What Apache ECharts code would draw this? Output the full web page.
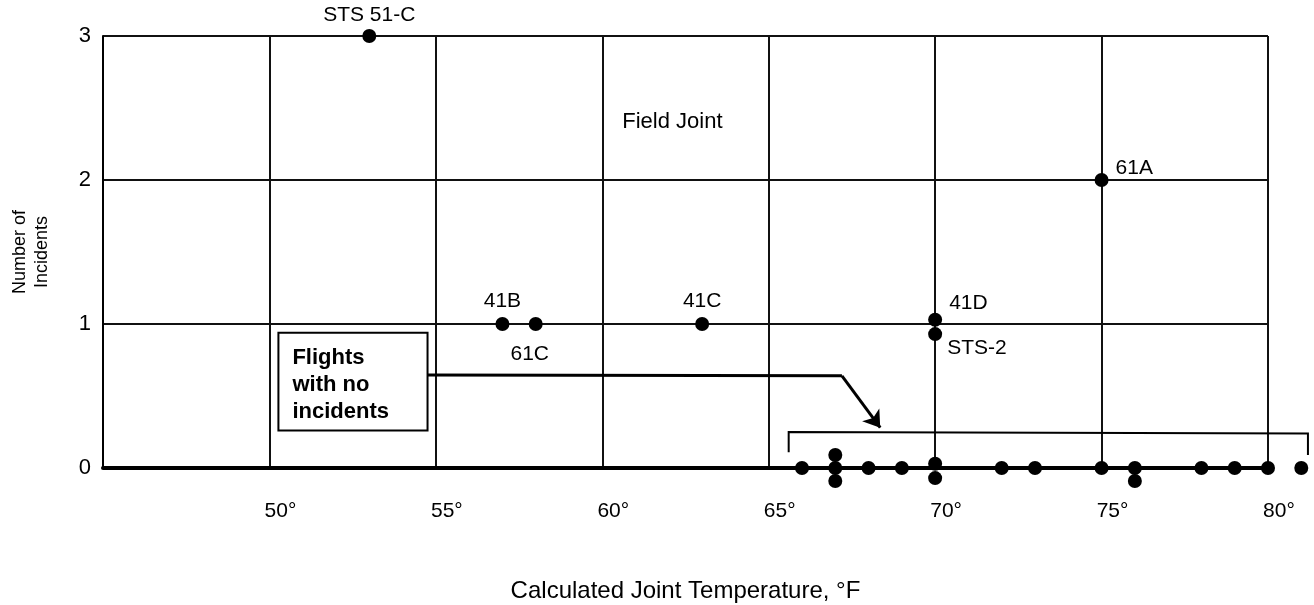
<!DOCTYPE html>
<html>
<head>
<meta charset="utf-8">
<script src="https://cdn.jsdelivr.net/npm/echarts@6/dist/echarts.min.js"></script>
<style>
html, body { margin: 0; padding: 0; background: #fff; }
#chart { width: 1314px; height: 605px; }
</style>
</head>
<body>
<div id="chart"></div>
<script>
// flights with field joint incidents
const incidentTemps = [53, 57, 58, 63, 70, 70, 75]
const incidentCounts = [3, 1, 1, 1, 1.03, 0.93, 2]
const incidentNames = ['STS 51-C', '41B', '61C', '41C', '41D', 'STS-2', '61A']

// flights with no incidents (small offsets = dots stacked as drawn)
const noIncidentTemps = [66, 67, 67, 67, 68, 69, 70, 70, 72, 73, 75, 76, 76, 78, 79, 80, 81]
const noIncidentCounts = [0, 0.09, 0, -0.09, 0, 0, 0.03, -0.07, 0, 0, 0, 0, -0.09, 0, 0, 0, 0]

const tempTicks = [50, 55, 60, 65, 70, 75, 80]

// annotation anchors, in data units
const arrowRun = [[54.75, 0.645], [67.2, 0.64]]
const arrowHead = [[67.2, 0.64], [68.35, 0.28]]
const bracketPath = [[65.6, 0.11], [65.6, 0.25], [81.2, 0.24], [81.2, 0.09]]
const boxCorners = [[50.27, 0.94], [54.75, 0.26]]
const fieldJointAt = [60.6, 2.4]

const FONT = "'Liberation Sans', Arial, sans-serif"

// label placement per flight
const labelPlace = {
  'STS 51-C': { position: 'top', distance: 3 },
  '41B': { position: 'top', distance: 5 },
  '61C': { position: 'bottom', offset: [-6, 8] },
  '41C': { position: 'top', distance: 5 },
  '41D': { position: 'right', offset: [2, -16] },
  'STS-2': { position: 'right', offset: [0, 14] },
  '61A': { position: 'right', offset: [2, -12] }
}

const chart = echarts.init(document.getElementById('chart'))

const option = {
  animation: false,
  backgroundColor: '#fff',
  textStyle: { fontFamily: FONT },
  grid: {
    left: 103, right: 46, top: 36, bottom: 137,
    containLabel: false,
    outerBoundsMode: 'none'
  },
  xAxis: {
    type: 'value',
    min: 45,
    max: 80,
    interval: 5,
    axisLine: { show: true, onZero: false, lineStyle: { color: '#000', width: 4 } },
    axisTick: { show: false },
    splitLine: { show: true, lineStyle: { color: '#111', width: 2 } },
    axisLabel: {
      formatter: v => tempTicks.includes(v) ? v + '°' : '',
      color: '#000',
      fontSize: 21,
      fontFamily: FONT,
      margin: 33,
      padding: [0, 0, 0, 22]
    },
    name: 'Calculated Joint Temperature, °F',
    nameLocation: 'middle',
    nameGap: 111,
    nameTextStyle: { fontSize: 24, color: '#000', fontFamily: FONT }
  },
  yAxis: {
    type: 'value',
    min: 0,
    max: 3,
    interval: 1,
    axisLine: { show: true, lineStyle: { color: '#000', width: 2 } },
    axisTick: { show: false },
    splitLine: { show: true, lineStyle: { color: '#111', width: 2 } },
    axisLabel: { color: '#000', fontSize: 22, fontFamily: FONT, margin: 12 },
    name: 'Number of\nIncidents',
    nameLocation: 'middle',
    nameRotate: 90,
    nameGap: 50,
    nameTextStyle: { fontSize: 18, lineHeight: 22, color: '#000', fontFamily: FONT }
  },
  series: [
    {
      name: 'incidents',
      type: 'scatter',
      clip: false,
      symbolSize: 14,
      itemStyle: { color: '#000', opacity: 1 },
      data: incidentTemps.map((t, i) => ({
        name: incidentNames[i],
        value: [t, incidentCounts[i]],
        label: Object.assign({ show: true }, labelPlace[incidentNames[i]])
      })),
      label: {
        formatter: '{b}',
        color: '#000',
        fontSize: 21,
        fontFamily: FONT
      }
    },
    {
      name: 'no incidents',
      type: 'scatter',
      clip: false,
      symbolSize: 14,
      itemStyle: { color: '#000', opacity: 1 },
      data: noIncidentTemps.map((t, i) => [t, noIncidentCounts[i]])
    },
    {
      type: 'lines',
      coordinateSystem: 'cartesian2d',
      polyline: true,
      clip: false,
      silent: true,
      lineStyle: { color: '#000', width: 3, opacity: 1 },
      data: [{ coords: arrowRun }]
    },
    {
      type: 'lines',
      coordinateSystem: 'cartesian2d',
      polyline: true,
      clip: false,
      silent: true,
      lineStyle: { color: '#000', width: 2, opacity: 1 },
      data: [{ coords: bracketPath }]
    },
    {
      type: 'lines',
      coordinateSystem: 'cartesian2d',
      clip: false,
      silent: true,
      symbol: ['none', 'arrow'],
      symbolSize: 16,
      lineStyle: { color: '#000', width: 3, opacity: 1 },
      data: [{ coords: arrowHead }]
    }
  ]
}

chart.setOption(option)

// annotations placed through the grid's own scale
const toPx = p => chart.convertToPixel({ gridIndex: 0 }, p)
const b0 = toPx(boxCorners[0])
const b1 = toPx(boxCorners[1])
const fj = toPx(fieldJointAt)

chart.setOption({
  graphic: [
    {
      type: 'rect',
      shape: { x: b0[0], y: b0[1], width: b1[0] - b0[0], height: b1[1] - b0[1] },
      style: { fill: '#fff', stroke: '#000', lineWidth: 2 },
      z: 10
    },
    {
      type: 'text',
      x: b0[0] + 14,
      y: b0[1] + 12,
      style: {
        text: 'Flights\nwith no\nincidents',
        fill: '#000',
        font: 'bold 22px ' + FONT,
        lineHeight: 27
      },
      z: 11
    },
    {
      type: 'text',
      x: fj[0],
      y: fj[1],
      style: {
        text: 'Field Joint',
        fill: '#000',
        font: '22px ' + FONT,
        verticalAlign: 'middle'
      },
      z: 11
    }
  ]
})

window.addEventListener('resize', () => {
  chart.resize()
})
</script>
</body>
</html>
